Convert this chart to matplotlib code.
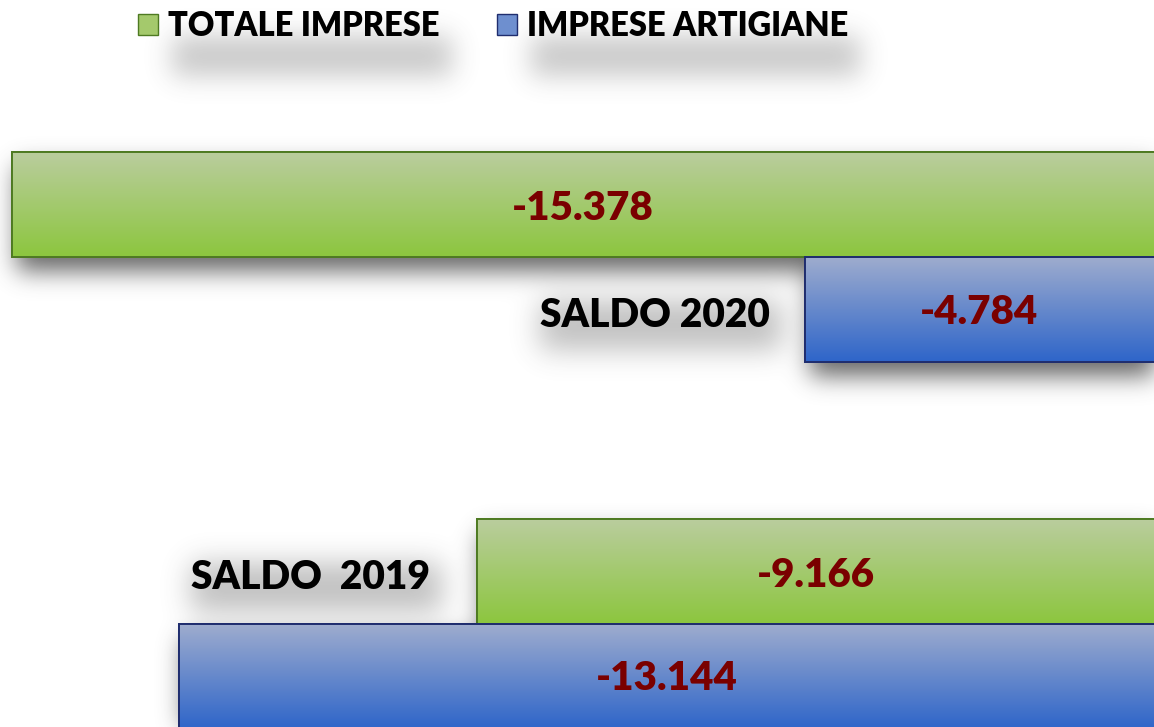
import numpy as np
import matplotlib
matplotlib.use("Agg")
import matplotlib.pyplot as plt
from matplotlib.colors import LinearSegmentedColormap
from matplotlib.patches import Patch

# ---- data ----
categories = ["SALDO 2020", "SALDO  2019"]
series_names = ["TOTALE IMPRESE", "IMPRESE ARTIGIANE"]
totale = [-15378, -9166]
artigiane = [-4784, -13144]

# ---- style ----
FONT = ["Lato", "DejaVu Sans"]
plt.rcParams["font.family"] = FONT
green_top, green_bot, green_edge = "#bacd9e", "#8cc63e", "#4e7a22"
blue_top, blue_bot, blue_edge = "#9eacce", "#2e65c9", "#1f2d6e"
label_col = "#7a0000"

W, H = 1154, 727
fig = plt.figure(figsize=(W / 100, H / 100), dpi=100)
bg = fig.add_axes([0, 0, 1, 1], zorder=0)
bg.set_axis_off()
ax = fig.add_axes([0, 0, 1, 1], zorder=1)
ax.patch.set_alpha(0)
ax.set_axis_off()

h = 0.286
y = np.arange(len(categories))
ax.set_xlim(-15538, -120)
ax.set_ylim(1.2807, -0.7003)

bars_g = ax.barh(y - h / 2, totale, height=h, color="#a4c96c", edgecolor=green_edge,
                 linewidth=1.2, label=series_names[0], zorder=3)
bars_b = ax.barh(y + h / 2, artigiane, height=h, color="#6e8fcf", edgecolor=blue_edge,
                 linewidth=1.2, label=series_names[1], zorder=3)

grad = np.linspace(0, 1, 256).reshape(-1, 1)
for bars, top, bot in [(bars_g, green_top, green_bot), (bars_b, blue_top, blue_bot)]:
    cmap = LinearSegmentedColormap.from_list("g", [top, bot])
    for p in bars.patches:
        x0, y0 = p.get_x(), p.get_y()
        w, hh = p.get_width(), p.get_height()
        im = ax.imshow(grad, cmap=cmap, aspect="auto", interpolation="bicubic",
                       extent=(x0, x0 + w, y0 + hh, y0), zorder=3.5)
        im.set_clip_path(p)
        ax.add_patch(plt.Rectangle((x0, y0), w, hh, fill=False,
                                   edgecolor=p.get_edgecolor(), linewidth=1.4, zorder=4))

fmt = lambda v: f"{v:,}".replace(",", ".")
for bars, vals in [(bars_g, totale), (bars_b, artigiane)]:
    txts = ax.bar_label(bars, labels=[fmt(v) for v in vals], label_type="center",
                        color=label_col, fontsize=29, fontweight="heavy", zorder=6)
    for t in txts:
        t.set_va("center_baseline")

# category labels
t1 = ax.annotate(categories[0], xy=(artigiane[0], y[0] + h / 2), xytext=(-25, -4),
                 textcoords="offset points", ha="right", va="center",
                 fontsize=28, fontweight="heavy", color="black", zorder=6)
t2 = ax.annotate(categories[1], xy=(totale[1], y[1] - h / 2), xytext=(-34, -4),
                 textcoords="offset points", ha="right", va="center",
                 fontsize=28, fontweight="heavy", color="black", zorder=6)
cat_texts = [t1, t2]

handles = [Patch(facecolor="#a4c96c", edgecolor=green_edge),
           Patch(facecolor="#6e8fcf", edgecolor=blue_edge)]
leg = fig.legend(handles, series_names, loc="upper left", bbox_to_anchor=(138 / W, 1 - 10 / H),
                 ncol=2, frameon=False, borderpad=0, borderaxespad=0,
                 prop={"family": FONT, "weight": "heavy", "size": 23.5},
                 handlelength=0.62, handleheight=0.62, handletextpad=0.3, columnspacing=1.75)

# ---- soft shadows computed from drawn artists ----
fig.canvas.draw()
r = fig.canvas.get_renderer()


def blur(a, sigma):
    rad = int(3 * sigma)
    xs = np.arange(-rad, rad + 1)
    k = np.exp(-xs ** 2 / (2 * sigma ** 2))
    k /= k.sum()
    a = np.apply_along_axis(lambda m: np.convolve(m, k, mode="same"), 0, a)
    a = np.apply_along_axis(lambda m: np.convolve(m, k, mode="same"), 1, a)
    return a


def rect_mask(bbs, dx, dy, pad=0):
    m = np.zeros((H, W))
    for bb in bbs:
        x0 = int(round(bb.x0 + dx - pad)); x1 = int(round(bb.x1 + dx + pad))
        r0 = int(round(H - bb.y1 + dy - pad)); r1 = int(round(H - bb.y0 + dy + pad))
        m[max(r0, 0):max(r1, 0), max(x0, 0):max(x1, 0)] = 1
    return m

bar_bbs = [p.get_window_extent(r) for p in list(bars_g.patches) + list(bars_b.patches)]
sh = blur(rect_mask(bar_bbs, 5, 14), 12) * 0.85
text_bbs = [t.get_window_extent(r) for t in cat_texts]
sh += blur(rect_mask(text_bbs, 6, 10, pad=6), 14) * 0.35
leg_bbs = [t.get_window_extent(r) for t in leg.get_texts()]
sh += blur(rect_mask(leg_bbs, 8, 30, pad=4), 13) * 0.3
sh = np.clip(sh, 0, 0.75)
rgba = np.zeros((H, W, 4))
rgba[..., :3] = 0.3
rgba[..., 3] = sh
bg.imshow(rgba, extent=(0, 1, 0, 1), aspect="auto", interpolation="bilinear")
bg.set_xlim(0, 1); bg.set_ylim(0, 1)

fig.savefig("out.png", dpi=100)
